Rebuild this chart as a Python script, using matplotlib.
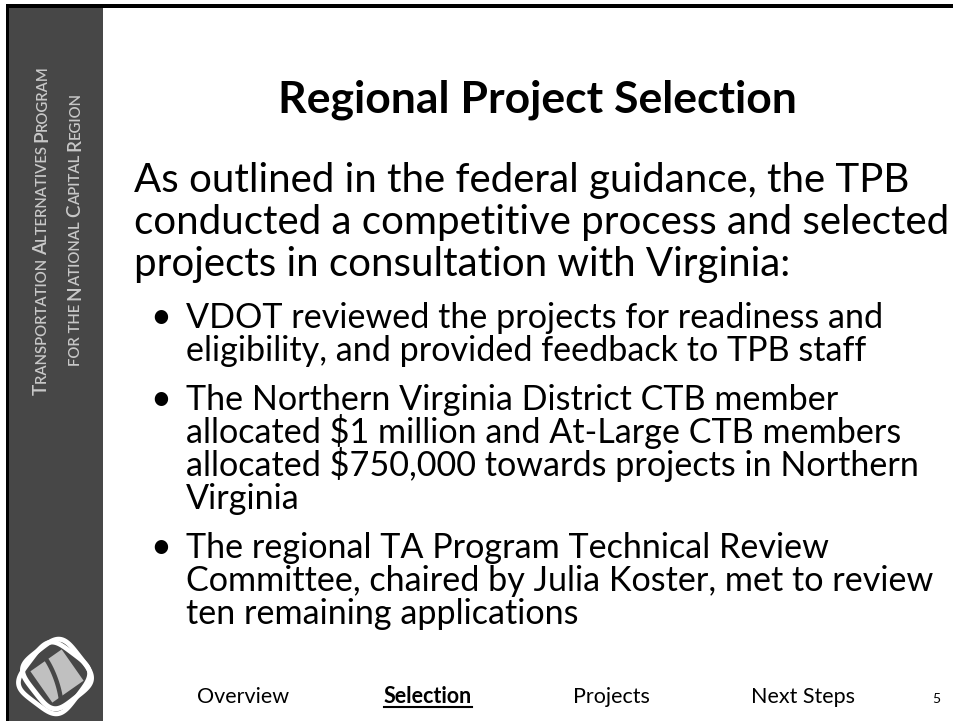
import numpy as np
import matplotlib
matplotlib.use("Agg")
import matplotlib.pyplot as plt
from matplotlib import font_manager
from matplotlib.patches import Rectangle, Polygon
from matplotlib.lines import Line2D

# ---- content ----
title = "Regional Project Selection"
intro_lines = [
    "As outlined in the federal guidance, the TPB",
    "conducted a competitive process and selected",
    "projects in consultation with Virginia:",
]
bullets = [
    ["VDOT reviewed the projects for readiness and",
     "eligibility, and provided feedback to TPB staff"],
    ["The Northern Virginia District CTB member",
     "allocated $1 million and At-Large CTB members",
     "allocated $750,000 towards projects in Northern",
     "Virginia"],
    ["The regional TA Program Technical Review",
     "Committee, chaired by Julia Koster, met to review",
     "ten remaining applications"],
]
nav_items = ["Overview", "Selection", "Projects", "Next Steps"]
nav_active = "Selection"
page_number = "5"
sidebar_lines = ["Transportation Alternatives Program",
                 "for the National Capital Region"]

FONT = "Lato"
installed = {f.name for f in font_manager.fontManager.ttflist}
SIDE_FONT = "Liberation Sans Narrow" if "Liberation Sans Narrow" in installed else "Lato"
SIDE_WEIGHT = "bold" if SIDE_FONT != "Lato" else "semibold"

W, H = 954, 721
fig = plt.figure(figsize=(W / 100, H / 100), dpi=100)
ax = fig.add_axes([0, 0, 1, 1])
ax.set_xlim(0, W)
ax.set_ylim(H, 0)
ax.axis("off")
fig.patch.set_facecolor("white")

SIDEBAR = "#474747"
LIGHT = "#c8c8c8"

# frame + sidebar
ax.add_patch(Rectangle((6, 4), 97, H, facecolor=SIDEBAR, edgecolor="none"))
ax.add_patch(Rectangle((6, 4), 3.5, H, facecolor="black", edgecolor="none"))
ax.add_patch(Rectangle((6, 4), W, 3.5, facecolor="black", edgecolor="none"))

fig.canvas.draw()
renderer = fig.canvas.get_renderer()


def text_width(s, size, weight="normal", family=FONT):
    t = ax.text(0, 0, s, fontsize=size, family=family, weight=weight)
    w = t.get_window_extent(renderer).width
    t.remove()
    return w


def smallcaps_pieces(line, big, small):
    pieces = []
    cur, cur_big = "", None
    for ch in line:
        is_big = ch.isupper()
        if cur_big is None or is_big == cur_big or ch == " ":
            if cur_big is None:
                cur_big = is_big
            cur += ch.upper()
        else:
            pieces.append((cur, big if cur_big else small))
            cur, cur_big = ch.upper(), is_big
    pieces.append((cur, big if cur_big else small))
    return pieces


def smallcaps_length(line, big, small):
    return sum(text_width(p, s, SIDE_WEIGHT, SIDE_FONT)
               for p, s in smallcaps_pieces(line, big, small))


# small-caps vertical sidebar text
def smallcaps_vertical(line, xbase, ycenter, big, small):
    pieces = smallcaps_pieces(line, big, small)
    widths = [text_width(p, s, SIDE_WEIGHT, SIDE_FONT) for p, s in pieces]
    total = sum(widths)
    y = ycenter + total / 2
    for (p, s), w in zip(pieces, widths):
        ax.text(xbase, y, p, fontsize=s, family=SIDE_FONT, weight=SIDE_WEIGHT,
                color=LIGHT, rotation=90, rotation_mode="anchor",
                ha="left", va="baseline")
        y -= w


# scale sidebar lettering so the first line spans the sidebar band
base_big, base_small = 14.0, 11.0
k = 330 / smallcaps_length(sidebar_lines[0], base_big, base_small)
smallcaps_vertical(sidebar_lines[0], 47, 230, base_big * k, base_small * k)
smallcaps_vertical(sidebar_lines[1], 80, 229, base_big * k, base_small * k)

# logo
cx, cy = 56, 676
tt = np.linspace(0, 2 * np.pi, 400)


def rounded_square(r, p, rot_deg, sx=1.0, sy=1.0, dx=0.0, dy=0.0):
    c, s = np.cos(tt), np.sin(tt)
    x = np.sign(c) * np.abs(c) ** (2 / p) * r * sx
    y = np.sign(s) * np.abs(s) ** (2 / p) * r * sy
    a = np.deg2rad(rot_deg + 45)
    xr = x * np.cos(a) - y * np.sin(a)
    yr = x * np.sin(a) + y * np.cos(a)
    return np.column_stack([cx + dx + xr, cy + dy + yr])


# gray diamond (sharp square rotated ~45 deg, slight tilt)
ang = np.deg2rad(np.array([-80, 10, 100, 190]))
gray = np.column_stack([cx + 1 + 27 * np.cos(ang), cy + 27 * np.sin(ang)])
ax.add_patch(Polygon(gray, closed=True, facecolor="#c0c0c0", edgecolor="none"))
# dark swoosh inside
sv = np.linspace(0, 1, 60)
ax.plot(cx - 13 + 12 * np.sin(sv * np.pi / 2) ** 0.7 + 6 * sv,
        cy - 20 + 44 * sv, color=SIDEBAR, lw=3.2, solid_capstyle="butt")
# white rings
ax.add_patch(Polygon(rounded_square(30, 4.0, 7, 1.0, 0.95, 1, -2), closed=True,
                     facecolor="none", edgecolor="white", lw=3.6))
ax.add_patch(Polygon(rounded_square(31, 4.0, -8, 0.95, 1.0, -2, 2), closed=True,
                     facecolor="none", edgecolor="white", lw=3.4))

# title
ax.text(537, 113, title, fontsize=32, family=FONT, weight="bold",
        ha="center", va="baseline", color="black")

# intro paragraph
y = 192
for ln in intro_lines:
    ax.text(134, y, ln, fontsize=29, family=FONT, ha="left", va="baseline",
            color="black")
    y += 42

# bullets
y = 328
for b in bullets:
    for j, ln in enumerate(b):
        if j == 0:
            ax.text(150, y, "\u2022", fontsize=26, family=FONT, ha="left",
                    va="baseline", color="black")
        ax.text(186, y, ln, fontsize=24.6, family=FONT, ha="left",
                va="baseline", color="black")
        y += 33
    y += 16

# navigation
nav_x = [243, 428, 611, 803]
for item, xx in zip(nav_items, nav_x):
    bold = item == nav_active
    ax.text(xx, 703, item, fontsize=15.5, family=FONT,
            weight="bold" if bold else "normal",
            ha="center", va="baseline", color="black")
    if bold:
        w = text_width(item, 15.5, "bold")
        ax.add_line(Line2D([xx - w / 2, xx + w / 2], [707, 707],
                           color="black", lw=1.5))
ax.text(936, 703, page_number, fontsize=10, family=FONT, ha="center",
        va="baseline", color="black")

fig.savefig("out.png", dpi=100, facecolor="white")
